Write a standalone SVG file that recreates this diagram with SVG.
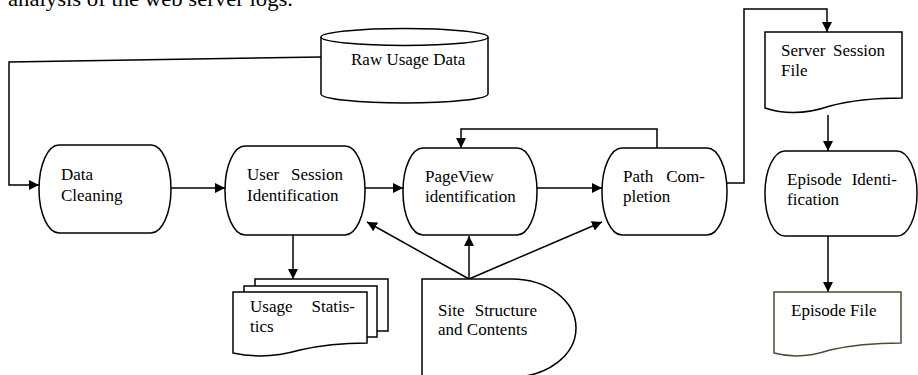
<svg xmlns="http://www.w3.org/2000/svg" width="918" height="375" viewBox="0 0 918 375">
  <style>
    .shape { fill: #ffffff; stroke: #000000; stroke-width: 1.5; }
    .olive { stroke: #4d4a33; }
    .wire { fill: none; stroke: #000000; stroke-width: 1.5; }
    .label { font-family: "Liberation Serif", "Times New Roman", serif; font-size: 17px; fill: #000000; }
    .caption { font-family: "Liberation Serif", "Times New Roman", serif; font-size: 22px; fill: #000000; }
  </style>
  <defs>
    <marker id="arrow" viewBox="0 0 10 10" refX="10" refY="5" markerWidth="10" markerHeight="10" markerUnits="userSpaceOnUse" orient="auto">
      <path d="M0,0 L10,5 L0,10 Z" fill="#000000"/>
    </marker>
  </defs>
  <rect width="918" height="375" fill="#ffffff"/>

  <!-- running text above the figure -->
  <text class="caption" x="8" y="6" textLength="285" lengthAdjust="spacingAndGlyphs">analysis of the web server logs.</text>

  <!-- connectors -->
  <g id="connectors">
    <polyline class="wire" points="321,57 9,62 9,185 39,185" marker-end="url(#arrow)"/>
    <line class="wire" x1="171" y1="188" x2="225" y2="188" marker-end="url(#arrow)"/>
    <line class="wire" x1="365" y1="188" x2="403" y2="188" marker-end="url(#arrow)"/>
    <line class="wire" x1="537" y1="188" x2="602" y2="188" marker-end="url(#arrow)"/>
    <polyline class="wire" points="657,148 657,129 461,129 461,148" marker-end="url(#arrow)"/>
    <polyline class="wire" points="727,183 744,183 744,9 827,9 827,32" marker-end="url(#arrow)"/>
    <line class="wire" x1="828" y1="115" x2="828" y2="151" marker-end="url(#arrow)"/>
    <line class="wire" x1="828" y1="236" x2="828" y2="292" marker-end="url(#arrow)"/>
    <line class="wire" x1="293" y1="235" x2="293" y2="279" marker-end="url(#arrow)"/>
    <line class="wire" x1="469" y1="279" x2="469" y2="236" marker-end="url(#arrow)"/>
    <line class="wire" x1="469" y1="279" x2="367" y2="222" marker-end="url(#arrow)"/>
    <line class="wire" x1="469" y1="279" x2="602" y2="222" marker-end="url(#arrow)"/>
  </g>

  <!-- stored data: cylinder -->
  <g id="raw-usage-data">
    <path class="shape" d="M321,37 V94 A83.5,9 0 0 0 488,94 V37"/>
    <ellipse class="shape" cx="404.5" cy="37" rx="83.5" ry="8.5"/>
    <text class="label" x="351" y="65">Raw Usage Data</text>
  </g>

  <!-- process steps -->
  <g id="data-cleaning">
    <rect class="shape" x="39" y="145" width="132" height="88" rx="20" ry="44"/>
    <text class="label" x="61" y="180">Data</text>
    <text class="label" x="61" y="201">Cleaning</text>
  </g>

  <g id="user-session-identification">
    <rect class="shape" x="225" y="146" width="140" height="89" rx="20" ry="44"/>
    <text class="label" x="247" y="180">User</text>
    <text class="label" x="343" y="180" text-anchor="end">Session</text>
    <text class="label" x="247" y="201">Identification</text>
  </g>

  <g id="pageview-identification">
    <rect class="shape" x="403" y="148" width="134" height="87" rx="20" ry="43"/>
    <text class="label" x="425" y="182">PageView</text>
    <text class="label" x="425" y="202">identification</text>
  </g>

  <g id="path-completion">
    <rect class="shape" x="602" y="148" width="125" height="87" rx="20" ry="43"/>
    <text class="label" x="623" y="182">Path</text>
    <text class="label" x="705" y="182" text-anchor="end">Com-</text>
    <text class="label" x="623" y="202">pletion</text>
  </g>

  <g id="episode-identification">
    <rect class="shape" x="765" y="151" width="152" height="85" rx="20" ry="42"/>
    <text class="label" x="787" y="185">Episode</text>
    <text class="label" x="897" y="185" text-anchor="end">Identi-</text>
    <text class="label" x="787" y="205">fication</text>
  </g>

  <!-- documents -->
  <g id="server-session-file">
    <path class="shape" d="M765,32 H902 V98 Q860,98 830,106 Q795,118 765,108 Z"/>
    <text class="label" x="781" y="56">Server</text>
    <text class="label" x="885" y="56" text-anchor="end">Session</text>
    <text class="label" x="781" y="76">File</text>
  </g>

  <g id="usage-statistics">
    <rect class="shape" x="255" y="279" width="133" height="52"/>
    <rect class="shape" x="244" y="286" width="133" height="51"/>
    <path class="shape" d="M233,292 H367 V343 Q330,343 300,350 Q265,360 233,353 Z"/>
    <text class="label" x="250" y="312">Usage</text>
    <text class="label" x="355" y="312" text-anchor="end">Statis-</text>
    <text class="label" x="250" y="332">tics</text>
  </g>

  <g id="episode-file">
    <path class="shape olive" d="M774,292 H901 V343 Q860,343 830,350 Q800,360 774,353 Z"/>
    <text class="label" x="791" y="316">Episode File</text>
  </g>

  <!-- site structure: delay shape -->
  <g id="site-structure-and-contents">
    <path class="shape" d="M422,377 V279 H512 A64,49 0 0 1 512,377 Z"/>
    <text class="label" x="438" y="316">Site</text>
    <text class="label" x="537" y="316" text-anchor="end">Structure</text>
    <text class="label" x="438" y="335">and Contents</text>
  </g>
</svg>
